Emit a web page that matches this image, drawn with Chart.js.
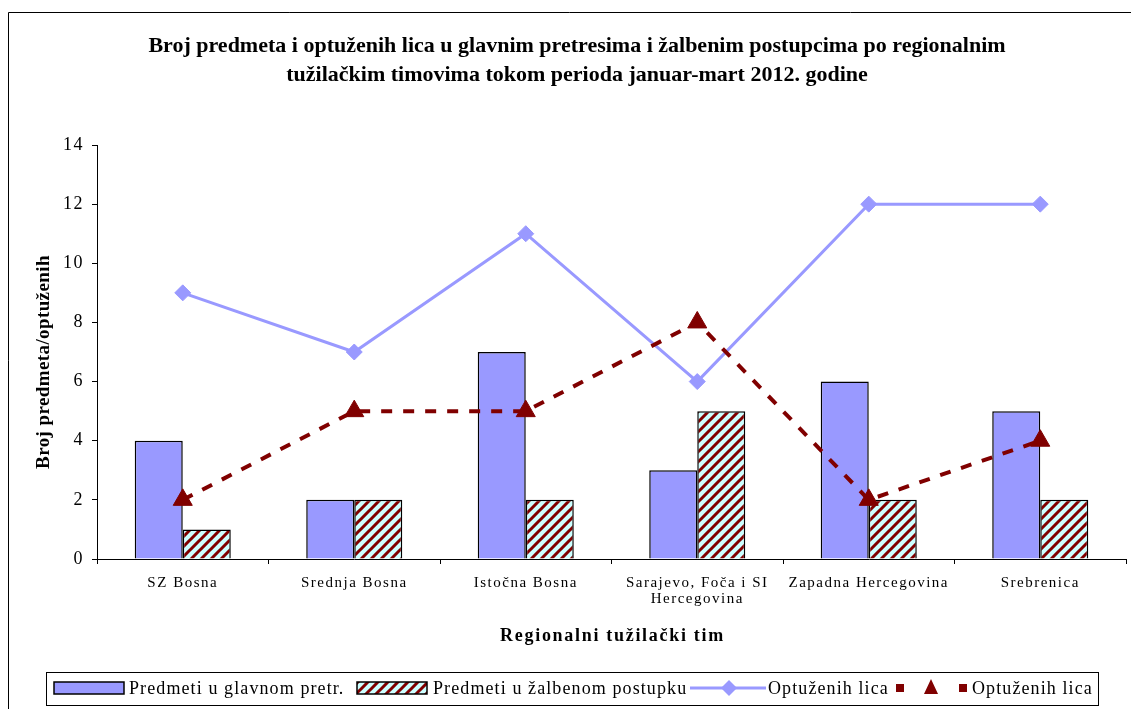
<!DOCTYPE html>
<html>
<head>
<meta charset="utf-8">
<script src="https://cdn.jsdelivr.net/npm/chart.js@4"></script>
<style>
  html, body { margin: 0; padding: 0; background: #fff; }
  #wrap { width: 1131px; height: 709px; }
</style>
</head>
<body>
<div id="wrap"><canvas id="tuzilastvoChart" width="1131" height="709"></canvas></div>
<script>
// Chart data
const categories = ['SZ Bosna', 'Srednja Bosna', 'Istočna Bosna', ['Sarajevo, Foča i SI', 'Hercegovina'], 'Zapadna Hercegovina', 'Srebrenica'];
const predmetiGlavni = [4, 2, 7, 3, 6, 5];
const predmetiZalbeni = [1, 2, 2, 5, 2, 2];
const optuzeniGlavni = [9, 7, 11, 6, 12, 12];
const optuzeniZalbeni = [2, 5, 5, 8, 2, 4];
const yTicks = [0, 2, 4, 6, 8, 10, 12, 14];

const titleLines = [
    'Broj predmeta i optuženih lica u glavnim pretresima i žalbenim postupcima po regionalnim',
    'tužilačkim timovima tokom perioda januar-mart 2012. godine'
];
const legendLabels = ['Predmeti u glavnom pretr.', 'Predmeti u žalbenom postupku', 'Optuženih lica', 'Optuženih lica'];

const BLUE = '#9999ff';
const DARK_RED = '#800000';
const SERIF = "'Liberation Serif', 'Times New Roman', serif";

// Diagonal hatch (cyan with dark red stripes)
function makeHatch() {
    const size = 10;
    const c = document.createElement('canvas');
    c.width = size;
    c.height = size;
    const g = c.getContext('2d');
    g.fillStyle = '#ccffff';
    g.fillRect(0, 0, size, size);
    g.strokeStyle = DARK_RED;
    g.lineWidth = 3;
    g.beginPath();
    g.moveTo(0, size); g.lineTo(size, 0);
    g.moveTo(-2, 2); g.lineTo(2, -2);
    g.moveTo(size - 2, size + 2); g.lineTo(size + 2, size - 2);
    g.stroke();
    return g.createPattern(c, 'repeat');
}

// Title, axis titles, frame and boxed legend
const decorations = {
    id: 'decorations',
    beforeDraw(chart) {
        // the original tick labels are widely spaced
        chart.ctx.letterSpacing = '1.5px';
    },
    beforeDatasetsDraw(chart) {
        chart.ctx.letterSpacing = '0px';
    },
    afterDraw(chart) {
        const ctx = chart.ctx;
        const area = chart.chartArea;
        ctx.save();
        ctx.letterSpacing = '0px';

        // outer frame
        ctx.strokeStyle = '#000';
        ctx.lineWidth = 1;
        ctx.beginPath();
        ctx.moveTo(8.5, 709);
        ctx.lineTo(8.5, 12.5);
        ctx.lineTo(1131, 12.5);
        ctx.stroke();

        ctx.fillStyle = '#000';
        ctx.textAlign = 'center';
        ctx.textBaseline = 'alphabetic';
        ctx.font = 'bold 22px ' + SERIF;
        ctx.fillText(titleLines[0], 577, 52);
        ctx.fillText(titleLines[1], 577, 81);

        ctx.font = 'bold 18px ' + SERIF;
        ctx.letterSpacing = '1.7px';
        ctx.fillText('Regionalni tužilački tim', (area.left + area.right) / 2 + 1, 641);

        ctx.font = 'bold 19px ' + SERIF;
        ctx.letterSpacing = '0.4px';
        ctx.textBaseline = 'middle';
        ctx.save();
        ctx.translate(44, 362);
        ctx.rotate(-Math.PI / 2);
        ctx.fillText('Broj predmeta/optuženih', 0, 0);
        ctx.restore();
        ctx.letterSpacing = '0px';

        // legend
        ctx.strokeStyle = '#000';
        ctx.lineWidth = 1;
        ctx.strokeRect(46.5, 672.5, 1052, 33);
        const midY = 688;

        ctx.fillStyle = BLUE;
        ctx.fillRect(54, 682, 70, 12);
        ctx.lineWidth = 1.5;
        ctx.strokeRect(54, 682, 70, 12);

        ctx.fillStyle = chart.data.datasets[1].backgroundColor;
        ctx.fillRect(357, 682, 70, 12);
        ctx.strokeRect(357, 682, 70, 12);

        ctx.strokeStyle = BLUE;
        ctx.lineWidth = 3;
        ctx.beginPath();
        ctx.moveTo(690, midY); ctx.lineTo(766, midY);
        ctx.stroke();
        ctx.fillStyle = BLUE;
        ctx.beginPath();
        ctx.moveTo(729, midY - 8); ctx.lineTo(737, midY); ctx.lineTo(729, midY + 8); ctx.lineTo(721, midY);
        ctx.closePath();
        ctx.fill();

        ctx.fillStyle = DARK_RED;
        ctx.fillRect(896, midY - 4, 8, 8);
        ctx.fillRect(959, midY - 4, 8, 8);
        ctx.beginPath();
        ctx.moveTo(931, midY - 9); ctx.lineTo(938, midY + 6); ctx.lineTo(924, midY + 6);
        ctx.closePath();
        ctx.fill();

        ctx.fillStyle = '#000';
        ctx.textAlign = 'left';
        ctx.font = '18px ' + SERIF;
        ctx.letterSpacing = '1.1px';
        ctx.fillText(legendLabels[0], 129, midY + 1);
        ctx.fillText(legendLabels[1], 433, midY + 1);
        ctx.fillText(legendLabels[2], 768, midY + 1);
        ctx.fillText(legendLabels[3], 972, midY + 1);
        ctx.restore();
    }
};

document.addEventListener('DOMContentLoaded', function() {
    const ctx = document.getElementById('tuzilastvoChart').getContext('2d');

    new Chart(ctx, {
        data: {
            labels: categories,
            datasets: [{
                type: 'bar',
                label: legendLabels[0],
                data: predmetiGlavni,
                backgroundColor: BLUE,
                borderColor: '#000',
                borderWidth: 1.5,
                categoryPercentage: 0.56,
                barPercentage: 1,
                order: 3
            }, {
                type: 'bar',
                label: legendLabels[1],
                data: predmetiZalbeni,
                backgroundColor: makeHatch(),
                borderColor: '#000',
                borderWidth: 1.5,
                categoryPercentage: 0.56,
                barPercentage: 1,
                order: 3
            }, {
                type: 'line',
                label: legendLabels[2],
                data: optuzeniGlavni,
                borderColor: BLUE,
                borderWidth: 3,
                pointStyle: 'rectRot',
                pointRadius: 8,
                pointBackgroundColor: BLUE,
                pointBorderColor: BLUE,
                pointBorderWidth: 1,
                tension: 0,
                order: 2
            }, {
                type: 'line',
                label: legendLabels[3],
                data: optuzeniZalbeni,
                borderColor: DARK_RED,
                borderWidth: 4,
                borderDash: [11, 11],
                pointStyle: 'triangle',
                pointRadius: 11,
                pointBackgroundColor: DARK_RED,
                pointBorderColor: DARK_RED,
                pointBorderWidth: 1,
                tension: 0,
                order: 1
            }]
        },
        options: {
            responsive: false,
            animation: false,
            layout: {
                autoPadding: false,
                padding: { top: 145, left: 0, right: 5, bottom: 0 }
            },
            plugins: {
                legend: { display: false },
                title: { display: false },
                tooltip: { enabled: false }
            },
            scales: {
                x: {
                    offset: true,
                    afterFit: function(scale) { scale.height = 150; },
                    grid: {
                        offset: true,
                        drawOnChartArea: false,
                        drawTicks: true,
                        tickLength: 5,
                        color: '#000'
                    },
                    border: { color: '#000', width: 1 },
                    ticks: {
                        color: '#000',
                        font: { family: SERIF, size: 15, lineHeight: 1.05 },
                        padding: 11,
                        maxRotation: 0,
                        autoSkip: false
                    }
                },
                y: {
                    min: 0,
                    max: 14,
                    afterFit: function(scale) { scale.width = 97; },
                    afterBuildTicks: function(scale) {
                        scale.ticks = yTicks.map(v => ({ value: v }));
                    },
                    grid: {
                        drawOnChartArea: false,
                        drawTicks: true,
                        tickLength: 5,
                        color: '#000'
                    },
                    border: { color: '#000', width: 1 },
                    ticks: {
                        color: '#000',
                        font: { family: SERIF, size: 18 },
                        padding: 8
                    }
                }
            }
        },
        plugins: [decorations]
    });
});
</script>
</body>
</html>
